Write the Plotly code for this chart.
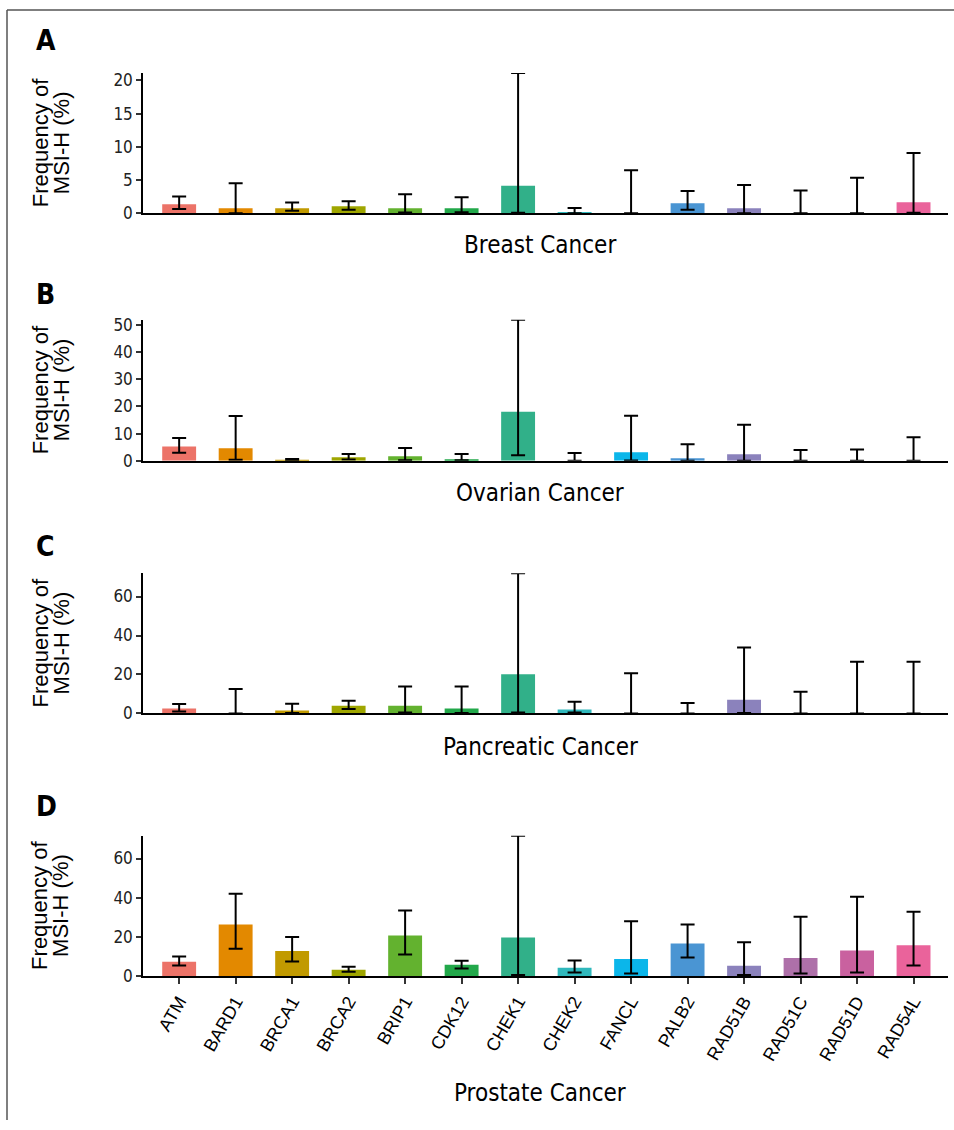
import plotly.graph_objects as go

genes = ["ATM", "BARD1", "BRCA1", "BRCA2", "BRIP1", "CDK12", "CHEK1", "CHEK2",
         "FANCL", "PALB2", "RAD51B", "RAD51C", "RAD51D", "RAD54L"]
colors = ["#EC7368", "#E38900", "#C19A00", "#9FA600", "#63B22F", "#22A84A", "#31B089",
          "#30B8BC", "#0BB6EA", "#4A95D3", "#8B82BC", "#AE70A9", "#C9619F", "#EA639B"]

breast_val = [1.35, 0.75, 0.75, 1.05, 0.75, 0.75, 4.15, 0.15, 0, 1.5, 0.75, 0, 0, 1.65]
breast_lo = [0.65, 0, 0.35, 0.5, 0.1, 0.15, 0.05, 0, 0, 0.5, 0, 0, 0, 0.05]
breast_hi = [2.5, 4.5, 1.6, 1.8, 2.85, 2.4, 21.1, 0.8, 6.45, 3.35, 4.25, 3.4, 5.35, 9.05]

ovarian_val = [5.3, 4.6, 0.3, 1.3, 1.7, 0.6, 18.1, 0, 3.2, 1.0, 2.4, 0, 0, 0]
ovarian_lo = [3.0, 0.4, 0, 0.5, 0.2, 0.2, 2.1, 0, 0.1, 0, 0, 0, 0, 0]
ovarian_hi = [8.4, 16.5, 0.7, 2.5, 4.7, 2.5, 51.9, 2.9, 16.6, 6.1, 13.3, 4.0, 4.2, 8.7]

pancreatic_val = [2.5, 0, 1.5, 4.0, 4.0, 2.5, 20.1, 2.0, 0, 0, 7.0, 0, 0, 0]
pancreatic_lo = [1.0, 0, 0.2, 2.3, 0.5, 0.2, 0.5, 0.5, 0, 0, 0.3, 0, 0, 0]
pancreatic_hi = [4.85, 12.5, 5.0, 6.5, 13.9, 13.9, 71.9, 6.0, 20.7, 5.35, 33.9, 11.2, 26.6, 26.6]

prostate_val = [7.2, 26.3, 12.7, 3.2, 20.7, 5.7, 19.7, 4.2, 8.7, 16.6, 5.2, 9.2, 13.0, 15.7]
prostate_lo = [5.35, 13.9, 7.4, 2.2, 11.0, 3.85, 0.5, 1.8, 1.2, 9.4, 0.5, 1.2, 1.7, 5.35]
prostate_hi = [9.9, 42.0, 19.9, 4.7, 33.4, 7.7, 71.6, 7.9, 27.9, 26.3, 17.2, 30.3, 40.5, 32.8]

panels = [
    ("A", "Breast Cancer", breast_val, breast_lo, breast_hi, 5),
    ("B", "Ovarian Cancer", ovarian_val, ovarian_lo, ovarian_hi, 10),
    ("C", "Pancreatic Cancer", pancreatic_val, pancreatic_lo, pancreatic_hi, 20),
    ("D", "Prostate Cancer", prostate_val, prostate_lo, prostate_hi, 20),
]

W, H = 954, 1130
# pixel layout: (axis bottom y, axis top y, letter y, x-title y)
geom = [(211, 69, 36, 243), (462, 319, 293, 495), (718, 576, 549, 752), (984, 842, 812, 1103)]
X0, X1 = 143, 948

NARROW = "DejaVu Sans Condensed, Liberation Sans Narrow, Arial Narrow, Liberation Sans, sans-serif"
SANS = "Liberation Sans, Arial, sans-serif"

fig = go.Figure()
layout = dict(
    width=W, height=H, margin=dict(l=0, r=0, t=0, b=0),
    paper_bgcolor="white", plot_bgcolor="white", showlegend=False,
    annotations=[], shapes=[],
)

for i, (letter, title, val, lo, hi, dt) in enumerate(panels):
    n = "" if i == 0 else str(i + 1)
    yb, yt, ly, ty = geom[i]
    plus = [h - v for h, v in zip(hi, val)]
    minus = [v - l for v, l in zip(val, lo)]
    fig.add_trace(go.Bar(
        x=genes, y=val, width=0.6,
        marker=dict(color=colors, line=dict(width=0)),
        error_y=dict(type="data", symmetric=False, array=plus, arrayminus=minus,
                     color="black", thickness=2, width=7),
        xaxis="x" + n, yaxis="y" + n,
    ))
    last = (i == 3)
    layout["xaxis" + n] = dict(
        domain=[X0 / W, X1 / W], anchor="y" + n, range=[-0.64, 13.61],
        showline=True, linecolor="black", linewidth=2, showgrid=False, zeroline=False,
        ticks="outside" if last else "", ticklen=6, tickwidth=1.5, tickcolor="#333",
        showticklabels=last, tickangle=-60,
        tickfont=dict(family=SANS, size=18, color="black"),
        categoryorder="array", categoryarray=genes,
    )
    layout["yaxis" + n] = dict(
        domain=[1 - yb / H, 1 - yt / H], anchor="x" + n, range=[0, max(hi)],
        showline=True, linecolor="black", linewidth=1.5, showgrid=False, zeroline=False,
        ticks="outside", ticklen=5, tickwidth=1.5, tickcolor="#333", dtick=dt,
        tickfont=dict(family=NARROW, size=17, color="#222"),
    )
    layout["annotations"].append(dict(
        text="<b>" + letter + "</b>", x=34 / W, y=1 - ly / H, xref="paper", yref="paper",
        xanchor="left", yanchor="middle", showarrow=False,
        font=dict(family=NARROW, size=28, color="black")))
    for lx, line in ((40, "Frequency of"), (61, "MSI-H (%)")):
        layout["annotations"].append(dict(
            text=line, x=lx / W, y=1 - (yb + yt) / 2 / H,
            xref="paper", yref="paper", xanchor="center", yanchor="middle",
            textangle=-90, showarrow=False,
            font=dict(family=SANS, size=22, color="black")))
    layout["annotations"].append(dict(
        text=title, x=540 / W, y=1 - ty / H, xref="paper", yref="paper",
        xanchor="center", yanchor="middle", showarrow=False,
        font=dict(family=NARROW, size=24, color="black")))

# outer frame (top and left edges)
layout["shapes"].append(dict(type="line", xref="paper", yref="paper",
                             x0=7 / W, x1=1, y0=1 - 5 / H, y1=1 - 5 / H,
                             line=dict(color="#555", width=1.5)))
layout["shapes"].append(dict(type="line", xref="paper", yref="paper",
                             x0=7 / W, x1=7 / W, y0=0, y1=1 - 5 / H,
                             line=dict(color="#555", width=1.5)))

fig.update_layout(**layout)
fig.write_html("out.html")
